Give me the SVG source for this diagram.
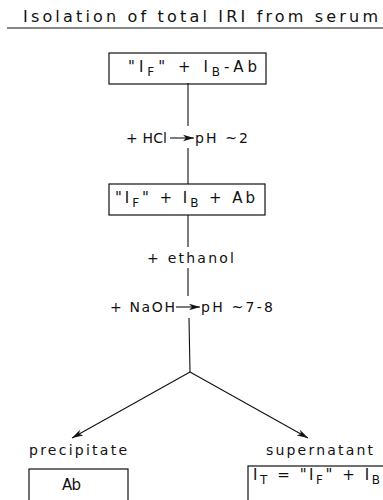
<svg xmlns="http://www.w3.org/2000/svg" width="383" height="500" viewBox="0 0 383 500">
<style>
text{font-family:"DejaVu Sans","Liberation Sans",sans-serif;fill:#111;font-size:14px}
.t{font-size:16px}
.x{font-size:15px}
.b{fill:none;stroke:#111;stroke-width:1.2}
.c{fill:none;stroke:#111;stroke-width:1.1}
</style>
<defs>
<marker id="ah" markerWidth="12" markerHeight="8" refX="11" refY="4" orient="auto" markerUnits="userSpaceOnUse">
<path d="M0,0.8 L11,4 L0,7.2 L3,4 Z" fill="#111"/>
</marker>
</defs>
<g id="title">
<text class="t" x="23" y="22" textLength="355" lengthAdjust="spacing">Isolation of total IRI from serum</text>
<line x1="7" y1="28" x2="383" y2="28" stroke="#111" stroke-width="1.2"/>
</g>
<g id="connectors">
<line class="c" x1="188" y1="83" x2="188" y2="126"/>
<line class="c" x1="188" y1="148" x2="188" y2="184"/>
<line class="c" x1="188" y1="215" x2="188" y2="247"/>
<line class="c" x1="188" y1="268" x2="188" y2="296"/>
<line class="c" x1="189" y1="318" x2="190" y2="372"/>
<line class="c" x1="170" y1="138" x2="194" y2="138" marker-end="url(#ah)"/>
<line class="c" x1="176" y1="307" x2="200" y2="307" marker-end="url(#ah)"/>
<line class="c" x1="190" y1="372" x2="72" y2="438" marker-end="url(#ah)"/>
<line class="c" x1="190" y1="372" x2="308" y2="438" marker-end="url(#ah)"/>
</g>
<g id="box1">
<rect class="b" x="109" y="53" width="157" height="31"/>
<text class="x" x="128" y="72" textLength="129" lengthAdjust="spacing">"I<tspan dy="4" font-size="12">F</tspan><tspan dy="-4">" + I</tspan><tspan dy="4" font-size="12">B</tspan><tspan dy="-4">-Ab</tspan></text>
</g>
<g id="step-hcl">
<text x="126" y="143" textLength="41" lengthAdjust="spacing">+ HCl</text>
<text x="195" y="143" textLength="53" lengthAdjust="spacing">pH ~2</text>
</g>
<g id="box2">
<rect class="b" x="109" y="184" width="156" height="31"/>
<text class="x" x="115" y="203" textLength="140" lengthAdjust="spacing">"I<tspan dy="4" font-size="12">F</tspan><tspan dy="-4">" + I</tspan><tspan dy="4" font-size="12">B</tspan><tspan dy="-4"> + Ab</tspan></text>
</g>
<g id="step-ethanol">
<text x="147" y="263" textLength="87" lengthAdjust="spacing">+ ethanol</text>
</g>
<g id="step-naoh">
<text x="110" y="312" textLength="65" lengthAdjust="spacing">+ NaOH</text>
<text x="201" y="312" textLength="72" lengthAdjust="spacing">pH ~7-8</text>
</g>
<g id="precipitate">
<text x="29" y="455" textLength="98" lengthAdjust="spacing">precipitate</text>
<rect class="b" x="29" y="469" width="99" height="40"/>
<text class="x" x="62" y="490" textLength="19" lengthAdjust="spacing">Ab</text>
</g>
<g id="supernatant">
<text x="266" y="455" textLength="107" lengthAdjust="spacing">supernatant</text>
<rect class="b" x="248" y="466" width="160" height="40"/>
<text class="x" x="253" y="480" textLength="127" lengthAdjust="spacing">I<tspan dy="4" font-size="12">T</tspan><tspan dy="-4"> = "I</tspan><tspan dy="4" font-size="12">F</tspan><tspan dy="-4">" + I</tspan><tspan dy="4" font-size="12">B</tspan></text>
</g>
</svg>
